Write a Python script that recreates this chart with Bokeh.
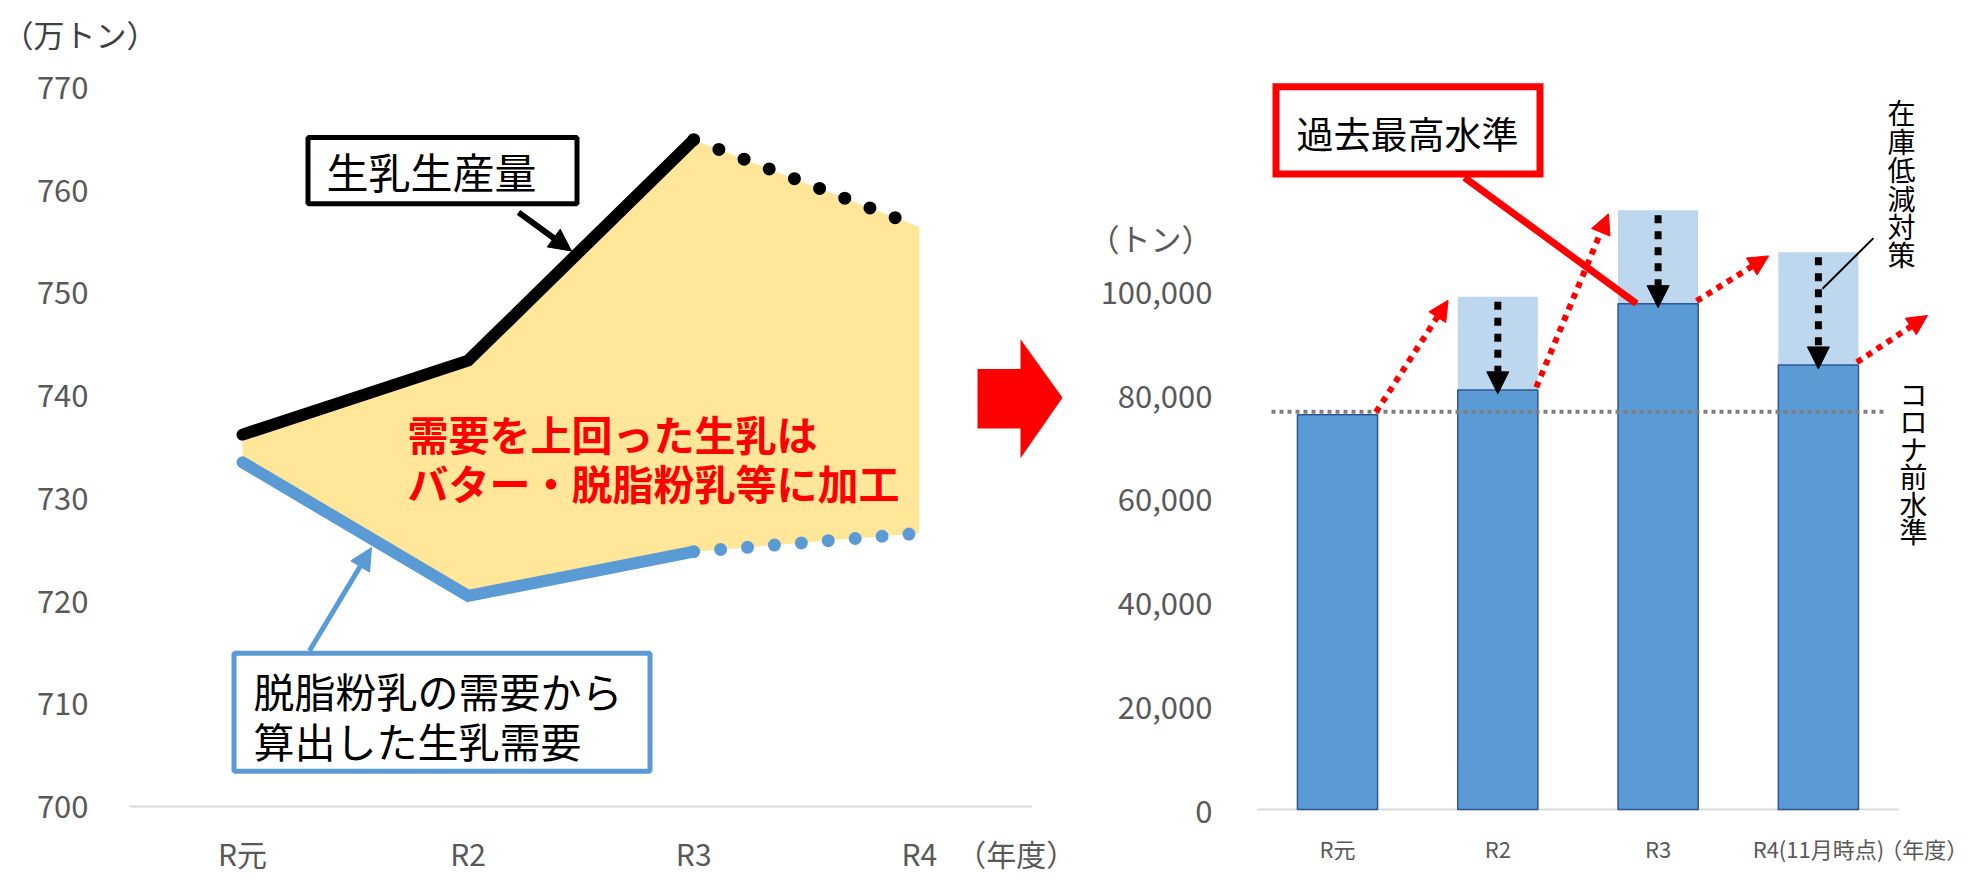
from bokeh.plotting import figure
from bokeh.models import Range1d, FixedTicker, NumeralTickFormatter, Arrow, NormalHead
from bokeh.layouts import row
from bokeh.core.properties import value
from bokeh.embed import file_html
from bokeh.resources import INLINE

# ---------------- data ----------------
years_left = ["R元", "R2", "R3", "R4"]
milk_production = [736.2, 743.4, 764.9, 756.4]   # 万トン (R4 = 見込み, dotted)
milk_demand = [733.5, 720.5, 724.8, 726.6]       # 万トン (R4 = 見込み, dotted)
left_ticks = [700, 710, 720, 730, 740, 750, 760, 770]

years_right = ["R元", "R2", "R3", "R4(11月時点)"]
stock_after = [76000, 80800, 97400, 85600]       # 在庫 (トン)
stock_before = [76000, 98750, 115400, 107300]    # 在庫低減対策前
pre_covid_level = 76600
right_ticks = [0, 20000, 40000, 60000, 80000, 100000]

JP = "Noto Sans CJK JP"
TICK_COLOR = "#595959"
UNIT_COLOR = "#404040"
BLUE = "#5B9BD5"
LIGHT_BLUE = "#BDD7EE"
YELLOW = "#FFE699"
RED = "#FF0000"

# reference-pixel -> data helpers (for annotation placement only)
def LX(px): return (px - 242) / 225.6
def LY(py): return 770 - (py - 87) / 10.357
def RX(px): return (px - 1337) / 160.3
def RY(py): return (815 - py) / 0.005235

TOTAL_H = 877
TOP_B = 62      # top border of both plots
BOT_B = 60      # bottom border of both plots
FRAME_BOTTOM = TOTAL_H - BOT_B

# ---------------- left chart ----------------
nendo_left_tick = 3.43
p1 = figure(width=1078, height=TOTAL_H, title="（万トン）",
            x_range=Range1d(LX(100), LX(1078)), y_range=Range1d(LY(FRAME_BOTTOM), LY(TOP_B)),
            output_backend="svg", toolbar_location=None,
            min_border_left=100, min_border_right=0, min_border_top=TOP_B, min_border_bottom=BOT_B)
p1.title.align = "left"
p1.title.vertical_align = "top"
p1.title.offset = -98
p1.title.text_font = JP
p1.title.text_font_size = "31px"
p1.title.text_font_style = "normal"
p1.title.text_color = UNIT_COLOR
p1.outline_line_color = None
p1.grid.visible = False

p1.yaxis.ticker = FixedTicker(ticks=left_ticks)
p1.xaxis.ticker = FixedTicker(ticks=list(range(len(years_left))) + [nendo_left_tick])
ov = {i: n for i, n in enumerate(years_left)}
ov[nendo_left_tick] = "（年度）"
p1.xaxis.major_label_overrides = ov
for ax in (p1.xaxis, p1.yaxis):
    ax.axis_line_color = None
    ax.major_tick_line_color = None
    ax.minor_tick_line_color = None
    ax.major_label_text_font = JP
    ax.major_label_text_color = TICK_COLOR
p1.yaxis.major_label_text_font_size = "31px"
p1.yaxis.major_label_standoff = 6
p1.xaxis.major_label_text_font_size = "30px"
p1.xaxis.major_label_standoff = 13

xs = list(range(len(years_left)))
p1.patch(xs + xs[::-1], milk_production + milk_demand[::-1], fill_color=YELLOW, line_color=None)
p1.segment(x0=[-0.5], y0=[left_ticks[0]], x1=[len(xs) - 0.5], y1=[left_ticks[0]],
           line_color="#D9D9D9", line_width=2)
p1.line(xs[:3], milk_production[:3], line_color="black", line_width=12,
        line_cap="round", line_join="miter")
p1.line(xs[2:], milk_production[2:], line_color="black", line_width=13,
        line_cap="round", line_dash="0 27")
p1.line(xs[:3], milk_demand[:3], line_color=BLUE, line_width=12,
        line_cap="round", line_join="miter")
p1.line(xs[2:], milk_demand[2:], line_color=BLUE, line_width=13,
        line_cap="round", line_dash="0 27")

p1.text(x=[LX(407), LX(407)], y=[LY(435), LY(485)],
        text=["需要を上回った生乳は", "バター・脱脂粉乳等に加工"],
        text_font=value(JP), text_font_size="41px", text_font_style="bold",
        text_color=RED, text_baseline="middle", text_align="left")

p1.quad(left=[LX(307.5)], right=[LX(576.5)], bottom=[LY(204.5)], top=[LY(137.5)],
        fill_color="white", line_color="black", line_width=5)
p1.text(x=[LX(326)], y=[LY(171)], text=["生乳生産量"], text_font=value(JP),
        text_font_size="42px", text_color="black", text_baseline="middle", text_align="left")
p1.add_layout(Arrow(end=NormalHead(size=22, fill_color="black", line_color="black"),
                    x_start=LX(518), y_start=LY(213), x_end=LX(571), y_end=LY(252),
                    line_color="black", line_width=6))

p1.quad(left=[LX(233.5)], right=[LX(649.5)], bottom=[LY(776.5)], top=[LY(657.5)],
        fill_color="white", line_color=BLUE, line_width=5)
p1.text(x=[LX(253), LX(253)], y=[LY(695), LY(745)],
        text=["脱脂粉乳の需要から", "算出した生乳需要"], text_font=value(JP),
        text_font_size="41px", text_color="black", text_baseline="middle", text_align="left")
p1.add_layout(Arrow(end=NormalHead(size=22, fill_color=BLUE, line_color=BLUE),
                    x_start=LX(309), y_start=LY(655), x_end=LX(371), y_end=LY(551),
                    line_color=BLUE, line_width=5))

ax_px = [977, 1020, 1020, 1062, 1020, 1020, 977]
ay_px = [371, 371, 341, 400, 461, 431, 431]
p1.patch([LX(v) for v in ax_px], [LY(v) for v in ay_px], fill_color=RED, line_color=None)

# ---------------- right chart ----------------
ton_tick = 110200
nendo_right_tick = 3.66
p2 = figure(width=890, height=TOTAL_H, title=None,
            x_range=Range1d(RX(1256), RX(1968)), y_range=Range1d(RY(FRAME_BOTTOM), RY(TOP_B)),
            output_backend="svg", toolbar_location=None,
            min_border_left=178, min_border_right=0, min_border_top=TOP_B, min_border_bottom=BOT_B)
p2.outline_line_color = None
p2.grid.visible = False

p2.yaxis.ticker = FixedTicker(ticks=right_ticks + [ton_tick])
p2.yaxis.formatter = NumeralTickFormatter(format="0,0")
p2.yaxis.major_label_overrides = {ton_tick: "（トン）"}
p2.xaxis.ticker = FixedTicker(ticks=list(range(len(years_right))) + [nendo_right_tick])
ov2 = {i: n for i, n in enumerate(years_right)}
ov2[nendo_right_tick] = "（年度）"
p2.xaxis.major_label_overrides = ov2
for ax in (p2.xaxis, p2.yaxis):
    ax.axis_line_color = None
    ax.major_tick_line_color = None
    ax.minor_tick_line_color = None
    ax.major_label_text_font = JP
    ax.major_label_text_color = TICK_COLOR
p2.yaxis.major_label_text_font_size = "31px"
p2.yaxis.major_label_standoff = 38
p2.xaxis.major_label_text_font_size = "22px"
p2.xaxis.major_label_standoff = 14

bx = list(range(len(years_right)))
p2.segment(x0=[-0.5], y0=[0], x1=[len(bx) - 0.5], y1=[0], line_color="#D9D9D9", line_width=2)
p2.vbar(x=bx[1:], width=0.5, bottom=stock_after[1:], top=stock_before[1:],
        fill_color=LIGHT_BLUE, line_color=None)
p2.vbar(x=bx, width=0.5, bottom=0, top=stock_after, fill_color=BLUE,
        line_color="#2F5597", line_width=1.5)

p2.segment(x0=[RX(1271)], y0=[pre_covid_level], x1=[RX(1883)], y1=[pre_covid_level],
           line_color="#7F7F7F", line_width=4, line_dash="4 4")

dpp = 1 / 0.005235  # data units per pixel
for i in bx[1:]:
    p2.add_layout(Arrow(end=NormalHead(size=22, fill_color="black", line_color="black"),
                        x_start=i, y_start=stock_before[i] - 5 * dpp,
                        x_end=i, y_end=stock_after[i] - 4 * dpp,
                        line_color="black", line_width=7, line_dash="8 8"))

for i in bx[:-1]:
    p2.add_layout(Arrow(end=NormalHead(size=20, fill_color=RED, line_color=RED),
                        x_start=i + 0.24, y_start=stock_after[i] + 500,
                        x_end=i + 0.69, y_end=stock_before[i + 1] - 700,
                        line_color=RED, line_width=6, line_dash="6 6"))
p2.add_layout(Arrow(end=NormalHead(size=20, fill_color=RED, line_color=RED),
                    x_start=bx[-1] + 0.24, y_start=stock_after[-1] + 500,
                    x_end=RX(1927), y_end=RY(317),
                    line_color=RED, line_width=6, line_dash="6 6"))

p2.segment(x0=[RX(1464)], y0=[RY(178)], x1=[RX(1636)], y1=[stock_after[2]],
           line_color=RED, line_width=7)
p2.quad(left=[RX(1275.5)], right=[RX(1539.5)], bottom=[RY(174.5)], top=[RY(86.5)],
        fill_color="white", line_color=RED, line_width=7, line_join="miter")
p2.text(x=[RX(1407)], y=[RY(133)], text=["過去最高水準"], text_font=value(JP),
        text_font_size="37px", text_color="black", text_baseline="middle", text_align="center")

t1 = list("在庫低減対策")
p2.text(x=[RX(1901)] * len(t1), y=[RY(112 + k * 28.7) for k in range(len(t1))], text=t1,
        text_font=value(JP), text_font_size="28px", text_color="black",
        text_baseline="middle", text_align="center")
t2 = list("コロナ前水準")
p2.text(x=[RX(1913)] * len(t2), y=[RY(396 + k * 27.7) for k in range(len(t2))], text=t2,
        text_font=value(JP), text_font_size="28px", text_color="black",
        text_baseline="middle", text_align="center")
p2.segment(x0=[RX(1873)], y0=[RY(239)], x1=[RX(1822)], y1=[RY(290)],
           line_color="black", line_width=2)

layout = row(p1, p2, spacing=0)
open("out.html", "w").write(file_html(layout, INLINE))
